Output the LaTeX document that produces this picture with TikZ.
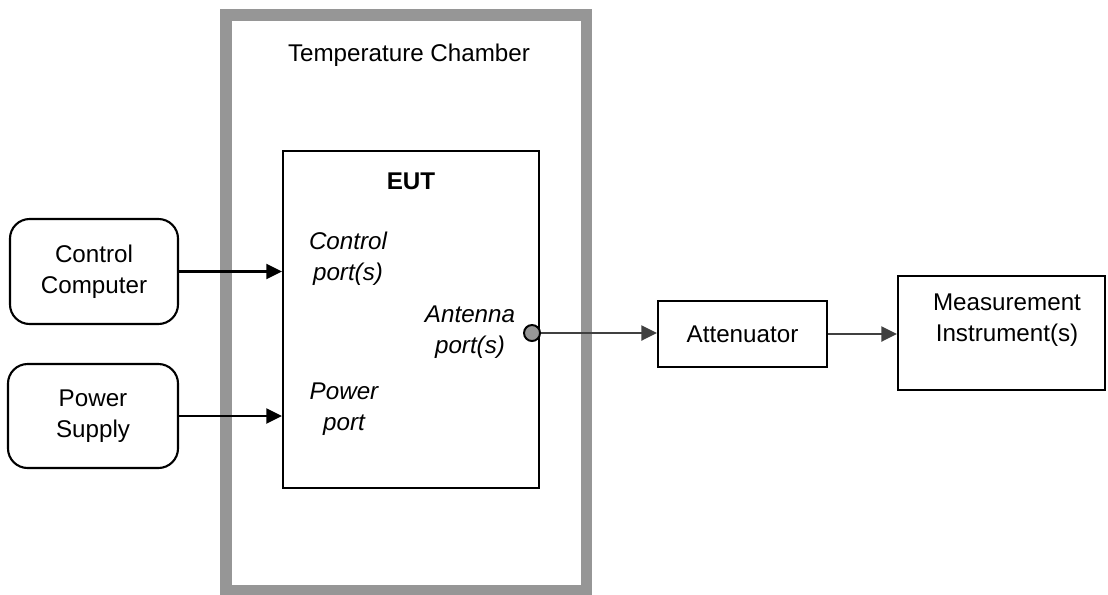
\documentclass[tikz,border=0pt]{standalone}
\usepackage{fontspec}
\setmainfont{Liberation Sans}
\usepackage{tikz}
\usetikzlibrary{arrows.meta, positioning, calc}
\definecolor{ChamberGray}{RGB}{150,150,150}
\definecolor{ArrowDark}{RGB}{64,64,64}
\newcommand{\diagfont}{\fontsize{17.2pt}{22pt}\selectfont}
\tikzset{
  basebox/.style={rectangle,draw=black,line width=1.5pt,
    align=center,font=\diagfont},
  devbox/.style={basebox,rounded corners=14pt},
  chamberbox/.style={rectangle,draw=ChamberGray,line width=8.2pt},
  portlabel/.style={align=center,font=\diagfont\itshape},
  arrow/.style={-{Triangle[length=11pt,width=10.5pt]},line width=1.9pt,color=black},
  darkarrow/.style={arrow,color=ArrowDark}
}

\begin{document}
\begin{tikzpicture}[x=0.025cm,y=-0.025cm]
  \useasboundingbox (0,0) rectangle (1108,594);
  % chamber and equipment under test
  \node[chamberbox,minimum width=9.0125cm,minimum height=14.39cm] (chamber) at (406.25,302.75) {};
  \node[font=\diagfont] (chlabel) at (409,55) {Temperature Chamber};
  \node[basebox,minimum width=6.4cm,minimum height=8.425cm] (eut) at (411,319.5) {};
  \node[font=\diagfont\bfseries] (eutlabel) at (411,181) {EUT};
  \node[portlabel] (ctrlport) at (348,259) {Control\\port(s)};
  \node[portlabel] (pwrport) at (344,409) {Power\\port};
  \node[portlabel] (antlabel) at (470,332) {Antenna\\port(s)};
  \node[circle,draw=black,fill=ChamberGray,line width=1.4pt,minimum size=0.4cm,inner sep=0pt] (antport) at (532,333) {};
  % outside devices
  \node[devbox,minimum width=4.2cm,minimum height=2.625cm] (ctrl) at (94,271.5) {Control\\Computer};
  \node[devbox,minimum width=4.25cm,minimum height=2.6cm] (psu) at (93,416) {Power\\Supply};
  \node[basebox,minimum width=4.225cm,minimum height=1.65cm] (att) at (742.5,334) {Attenuator};
  \node[basebox,minimum width=5.175cm,minimum height=2.85cm] (meas) at (1001.5,333) {};
  \node[font=\diagfont,align=center] (measlabel) at (1007,320) {Measurement\\Instrument(s)};
  % connections
  \draw[arrow] (ctrl.east) -- (ctrl.east -| eut.west);
  \draw[arrow] (psu.east) -- (psu.east -| eut.west);
  \draw[darkarrow] (antport.east) -- (antport.east -| att.west);
  \draw[darkarrow] (att.east) -- (att.east -| meas.west);
\end{tikzpicture}
\end{document}
